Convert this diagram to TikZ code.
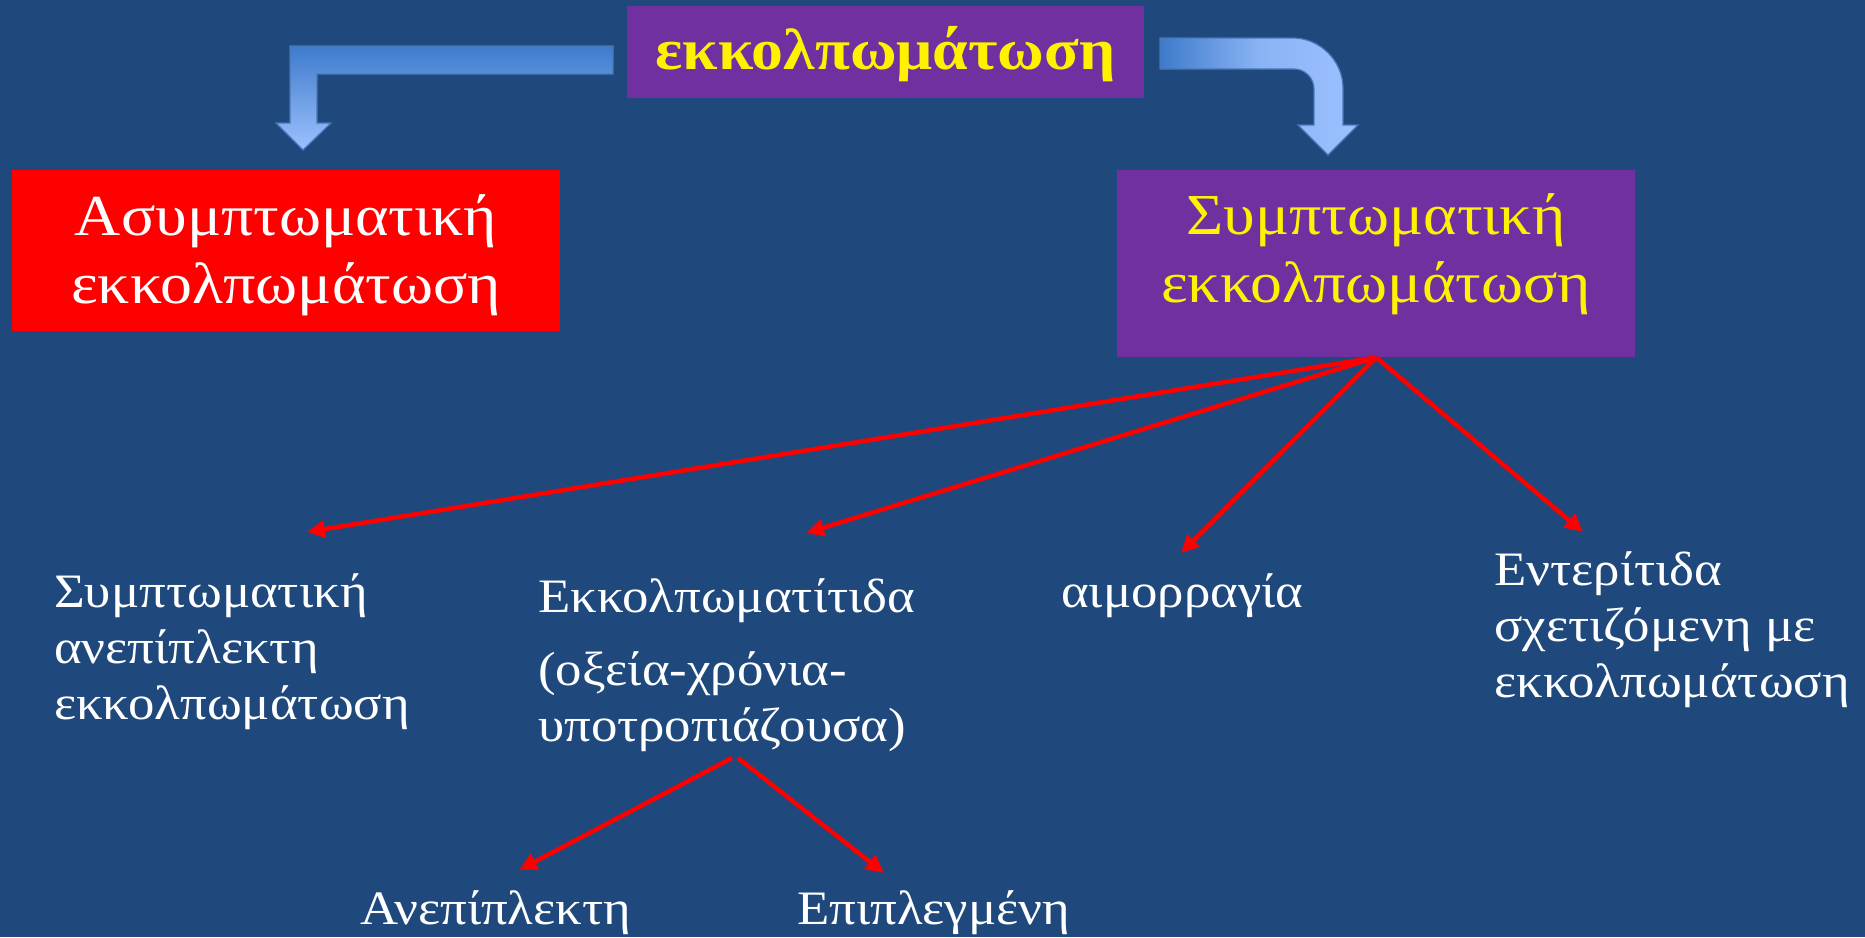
\documentclass[tikz,border=0pt]{standalone}
\usepackage{fontspec}
\setmainfont{Liberation Serif}[FakeStretch=1.1]
\usetikzlibrary{arrows.meta}
\definecolor{bg}{HTML}{1F497D}
\definecolor{purp}{HTML}{7030A0}
\definecolor{arrdark}{HTML}{3E7BCB}
\definecolor{arrlight}{HTML}{9DC1FF}
\definecolor{arredge}{HTML}{4677B8}
\begin{document}
\begin{tikzpicture}[x=1pt,y=-1pt,
  boxtxt/.style={font=\fontsize{58}{68}\selectfont, inner sep=0, anchor=base},
  bodytxt/.style={font=\fontsize{48}{56}\selectfont, text=white, inner sep=0, anchor=base west},
  redarrow/.style={draw=red, line width=4.5pt, -{Triangle[length=18pt,width=17pt]}},
  panel/.style={inner sep=0, anchor=north west, draw=none},
  bent/.style={draw=arredge, line width=1.2pt}
]
\fill[bg] (0,0) rectangle (1865,937);
\useasboundingbox (0,0) rectangle (1865,937);

% boxes
\node[panel, fill=purp, minimum width=517pt, minimum height=91.5pt] (top) at (627,6) {};
\node[panel, fill=red, minimum width=548pt, minimum height=161pt] (asym) at (12,170) {};
\node[panel, fill=purp, minimum width=518pt, minimum height=187pt] (sym) at (1117,170) {};

% bent arrows
\draw[bent, top color=arrdark, bottom color=arrlight]
  (613,46) -- (290,46) -- (290,123) -- (276,123) -- (303,150) -- (331,123)
  -- (317,123) -- (317,74) -- (613,74) -- cycle;
\draw[bent, left color=arrdark, right color=arrlight, middle color=arrlight!80!arrdark]
  (1160,38) -- (1293,38) .. controls (1320,38) and (1343,61) .. (1343,88)
  -- (1343,125) -- (1358,125) -- (1328,155) -- (1298,125) -- (1314,125)
  -- (1314,89) .. controls (1314,78) and (1305,69) .. (1294,69) -- (1160,69) -- cycle;

% texts
\node[boxtxt, text=yellow, font=\fontsize{58}{68}\selectfont\bfseries] (toptext) at (885.5,69) {εκκολπωμάτωση};
\node[boxtxt, text=white] (asymtext) at (286,235) {\begin{tabular}[t]{@{}c@{}}Ασυμπτωματική\\εκκολπωμάτωση\end{tabular}};
\node[boxtxt, text=yellow] (symtext) at (1376,234) {\begin{tabular}[t]{@{}c@{}}Συμπτωματική\\εκκολπωμάτωση\end{tabular}};

\node[bodytxt] (uncomp) at (54,607) {\begin{tabular}[t]{@{}l@{}}Συμπτωματική\\ανεπίπλεκτη\\εκκολπωμάτωση\end{tabular}};
\node[bodytxt] (divert) at (538,612) {\begin{tabular}[t]{@{}l@{}}Εκκολπωματίτιδα\\[17pt](οξεία-χρόνια-\\υποτροπιάζουσα)\end{tabular}};
\node[bodytxt] (bleed) at (1061,607) {αιμορραγία};
\node[bodytxt] (colitis) at (1494,585) {\begin{tabular}[t]{@{}l@{}}Εντερίτιδα\\σχετιζόμενη με\\εκκολπωμάτωση\end{tabular}};
\node[bodytxt] (simple) at (360,924) {Ανεπίπλεκτη};
\node[bodytxt] (complic) at (797,924) {Επιπλεγμένη};

% connector ends
\coordinate (t1) at (307,532);
\coordinate (t2) at (806,533);
\coordinate (t3) at (1181,553);
\coordinate (t4) at (1583,532);
\coordinate (d1) at (732,758);
\coordinate (d2) at (738,758);
\coordinate (t5) at (519,870);
\coordinate (t6) at (884,873);

\draw[redarrow] (sym.south) -- (t1);
\draw[redarrow] (sym.south) -- (t2);
\draw[redarrow] (sym.south) -- (t3);
\draw[redarrow] (sym.south) -- (t4);
\draw[redarrow] (d1) -- (t5);
\draw[redarrow] (d2) -- (t6);
\end{tikzpicture}
\end{document}
